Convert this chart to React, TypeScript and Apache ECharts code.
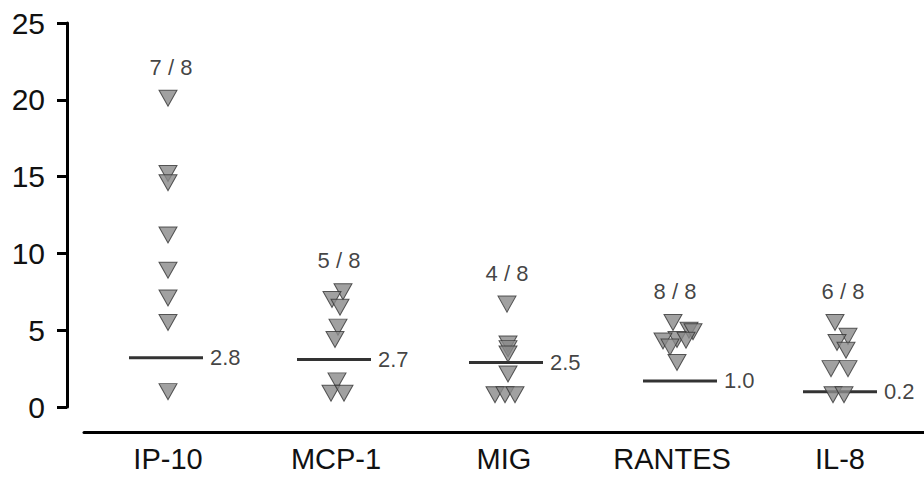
import React, { useEffect, useRef } from "react";
import * as echarts from "echarts";

const categories = ["IP-10", "MCP-1", "MIG", "RANTES", "IL-8"];

// concentrations (one array per chemokine)
const ip10 = [20.1, 15.2, 14.6, 11.2, 8.9, 7.1, 5.5, 1.0];
const mcp1 = [7.5, 7.0, 6.5, 5.2, 4.4, 1.7, 0.9, 0.9];
const mig = [6.7, 4.1, 3.8, 3.45, 2.15, 0.8, 0.8, 0.8];
const rantes = [5.5, 5.0, 4.9, 4.4, 4.35, 4.3, 3.9, 2.9];
const il8 = [5.5, 4.6, 4.2, 3.7, 2.5, 2.5, 0.8, 0.8];

// horizontal scatter of overlapping markers (px)
const ip10Jitter = [0, 0, 0, 0, 0, 0, 0, 0];
const mcp1Jitter = [7, -4, 4, 2, -1, 1, -5, 8];
const migJitter = [3, 4, 4, 4, 4, -9, 1, 11];
const rantesJitter = [1, 17, 21, 5, 14, -9, -2, 5];
const il8Jitter = [-5, 8, -3, 6, -9, 8, -7, 4];

const medianLevels = [3.2, 3.1, 2.9, 1.7, 1.0];
const medianLabels = ["2.8", "2.7", "2.5", "1.0", "0.2"];
const medianShift = [-2, -2, 2, 8, 0];

const detected = [7, 5, 4, 8, 6];
const total = 8;

const yTicks = [0, 5, 10, 15, 20, 25];

const groups = [ip10, mcp1, mig, rantes, il8];
const jitters = [ip10Jitter, mcp1Jitter, migJitter, rantesJitter, il8Jitter];

const FONT = "'Liberation Sans', Arial, Helvetica, sans-serif";

export default function App() {
  const ref = useRef<HTMLDivElement>(null);
  useEffect(() => {
    document.body.style.margin = "0";
    const chart = echarts.init(ref.current!, null, { renderer: "svg" });

    const pointData: any[] = [];
    groups.forEach((vals, i) => {
      vals.forEach((v, j) => {
        pointData.push({ value: [i, v], symbolOffset: [jitters[i][j], 0] });
      });
    });

    const medianData = medianLevels.map((m, i) => ({
      value: [i, m],
      symbolOffset: [medianShift[i], 0],
      label: { formatter: medianLabels[i] },
    }));

    const countData = groups.map((vals, i) => ({
      value: [i, Math.max(...vals)],
      label: { formatter: `${detected[i]} / ${total}` },
    }));

    chart.setOption({
      animation: false,
      backgroundColor: "#ffffff",
      textStyle: { fontFamily: FONT },
      grid: { left: 84, right: 0, top: 23, bottom: 74, containLabel: false },
      xAxis: {
        type: "category",
        data: categories,
        offset: 25,
        axisLine: { show: true, onZero: false, lineStyle: { color: "#000", width: 3 } },
        axisTick: { show: false },
        axisLabel: { fontSize: 29, color: "#111", margin: 12, fontFamily: FONT },
        splitLine: { show: false },
      },
      yAxis: {
        type: "value",
        min: yTicks[0],
        max: yTicks[yTicks.length - 1],
        interval: 5,
        offset: 17,
        axisLine: { show: true, onZero: false, lineStyle: { color: "#000", width: 3 } },
        axisTick: { show: true, length: 10, lineStyle: { color: "#000", width: 3 } },
        axisLabel: { fontSize: 30, color: "#111", margin: 22, fontFamily: FONT },
        splitLine: { show: false },
      },
      series: [
        {
          type: "scatter",
          z: 2,
          symbol: "rect",
          symbolSize: [74, 3],
          itemStyle: { color: "#000" },
          label: {
            show: true,
            position: "right",
            distance: 7,
            fontSize: 22,
            color: "#111",
            fontFamily: FONT,
          },
          data: medianData,
        },
        {
          type: "scatter",
          z: 3,
          symbol: "path://M0,0L20,0L10,17Z",
          symbolSize: [18, 16],
          itemStyle: { color: "#8a8a8a", borderColor: "#333", borderWidth: 1 },
          data: pointData,
        },
        {
          type: "scatter",
          z: 4,
          symbol: "circle",
          symbolSize: 0,
          label: {
            show: true,
            position: "inside",
            offset: [3, -31],
            fontSize: 22,
            color: "#111",
            fontFamily: FONT,
          },
          data: countData,
        },
      ],
    });
    return () => chart.dispose();
  }, []);
  return (
    <div
      ref={ref}
      style={{ position: "fixed", left: 0, top: 0, width: 924, height: 481 }}
    />
  );
}
